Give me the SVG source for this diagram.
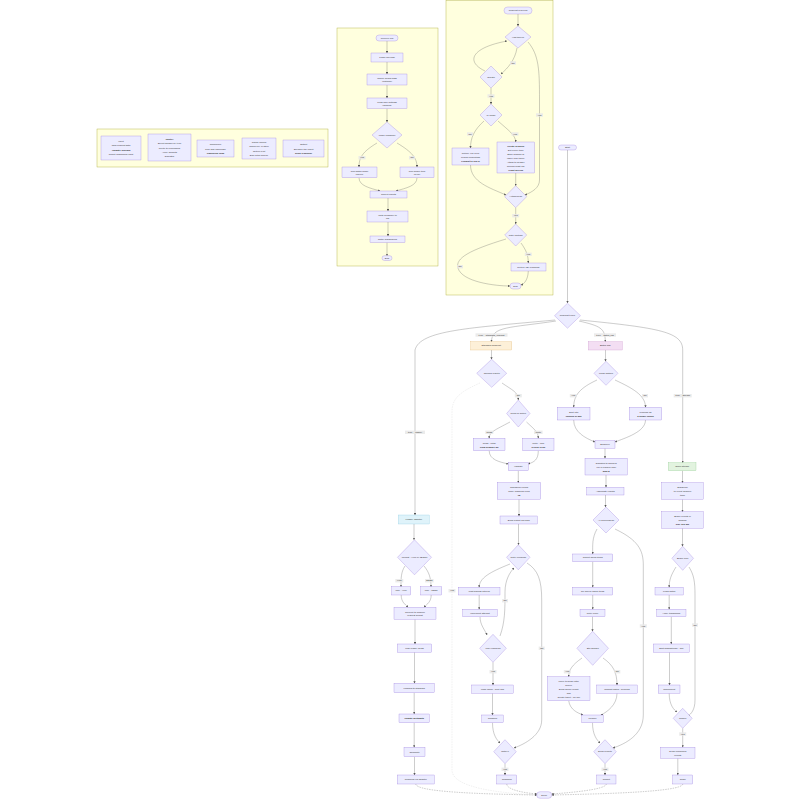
<svg xmlns="http://www.w3.org/2000/svg" width="800" height="800" viewBox="0 0 800 800">
<style>
.cl{fill:#ffffde;stroke:#aaaa33;stroke-width:0.4}
.n{fill:#ECECFF;stroke:#9370DB;stroke-width:0.3}
.e{fill:none;stroke:#555;stroke-width:0.3}
.dash{stroke-dasharray:1.5 1}
.t{font-family:"Liberation Sans",Arial,sans-serif;font-size:2.4px;fill:#333;text-anchor:middle;dominant-baseline:central}
.b{font-weight:bold}
.lb{fill:#e8e8e8;opacity:0.85}
</style>
<defs>
<marker id="a" viewBox="0 0 10 10" refX="9" refY="5" markerWidth="2.2" markerHeight="2.2" markerUnits="userSpaceOnUse" orient="auto"><path d="M0,0 L10,5 L0,10 z" fill="#555"/></marker>
</defs>
<rect width="800" height="800" fill="#fff"/>

<!-- clusters -->
<g id="cluster-left"><rect class="cl" x="97" y="129" width="231" height="38"/></g>
<g id="cluster-mid"><rect class="cl" x="337" y="28" width="101" height="238"/></g>
<g id="cluster-right"><rect class="cl" x="446" y="0.5" width="107" height="294.5"/></g>

<!-- connectors -->
<g id="connectors" class="e" marker-end="url(#a)">
<path d="M387,41 V53"/>
<path d="M387,62 V74"/>
<path d="M387,85 V98"/>
<path d="M387,108.5 V122"/>
<path d="M377,143 C362,152 359,158 359,167"/>
<path d="M397,143 C412,152 417,158 417,167"/>
<path d="M359,177.7 C359,186 370,188 380,191"/>
<path d="M417,177.7 C417,186 406,188 396,191"/>
<path d="M388,198 V211"/>
<path d="M388,222 V236"/>
<path d="M387,242.5 V255.7"/>
<path d="M518,14 V26"/>
<path d="M517,48 C515,60 508,68 501,74"/>
<path d="M485,71 C466,62 470,48 507,41"/>
<path d="M491,88 V104"/>
<path d="M484,121 C474,130 470.5,138 470.5,148"/>
<path d="M498,121 C508,130 515.7,135 515.7,142"/>
<path d="M528,42 C539,55 539.5,70 539.5,100 L539.5,180 C539.5,188 532,192 525,195"/>
<path d="M470.5,165 C470.5,182 490,188 506,195"/>
<path d="M515.7,173 V185.7"/>
<path d="M515.7,207.7 V224"/>
<path d="M521,243 C526,250 528.3,255 528.3,263"/>
<path d="M506,239 C470,250 455,258 458,268 C462,282 495,286 510,286"/>
<path d="M528.3,271 C528,280 524,284 521,285"/>
<path d="M567.5,150 V303"/>
<path d="M555,320 C470,328 420,330 415,350 L415,515"/>
<path d="M556,321 C510,328 491.5,326 491.5,341.7"/>
<path d="M579,321 C600,326 605.3,328 605.3,341.7"/>
<path d="M580,320 C660,328 682.7,332 682.7,350 L682.7,462.7"/>
<path d="M491.5,350 V359.3"/>
<path d="M502,383 C512,390 518.3,392 518.3,400"/>
<path d="M510,422 C495,430 489.2,432 489.2,438.3"/>
<path d="M526.5,422 C535,430 538.3,432 538.3,438.3"/>
<path d="M489.2,450.7 C489.2,460 500,462 508.3,464"/>
<path d="M538.3,450.7 C538.3,460 534,462 528.3,464"/>
<path d="M518.3,470.7 V482.7"/>
<path d="M519,499.3 V516"/>
<path d="M518.5,524 V544.8"/>
<path d="M510,564 C490,572 479.2,578 479.2,587.3"/>
<path d="M527,563 C538,570 541.7,580 541.7,600 L541.7,720 C541.7,735 525,744 514,748"/>
<path d="M479.2,595 V609.3"/>
<path d="M480,616.7 C480,625 485,630 487,635"/>
<path d="M500,636 C505,622 505,610 505,592 C505,580 510,572 514,568"/>
<path d="M493,662.3 V685"/>
<path d="M492.5,693.3 V715"/>
<path d="M492.5,722.7 C492.5,735 497,740 500,743"/>
<path d="M505,763.7 V775"/>
<path d="M605.5,350 V361.3"/>
<path d="M597,380 C580,388 573.7,395 573.7,407.3"/>
<path d="M615,380 C632,388 645.5,395 645.5,407.3"/>
<path d="M573.7,420 C573.7,432 585,438 595,442"/>
<path d="M645.5,420 C645.5,432 625,438 615,442"/>
<path d="M605,448.3 V458.3"/>
<path d="M606,475 V487.3"/>
<path d="M605.5,495 V507"/>
<path d="M597,529 C592,538 592.7,545 592.7,554"/>
<path d="M615,529 C638,540 643.3,550 643.3,565 L643.3,715 C643.3,735 625,744 613,748"/>
<path d="M592.7,561.7 V587.3"/>
<path d="M592.7,595 V609.3"/>
<path d="M592.5,616.7 V631.3"/>
<path d="M582,658 C572,665 568.7,670 568.7,676.7"/>
<path d="M603,658 C613,665 617,672 617,685"/>
<path d="M568.7,700.7 C570,710 578,713 583,715"/>
<path d="M617,693.3 C617,705 607,712 601,715"/>
<path d="M592.5,722.7 C592.5,735 597,740 600,743"/>
<path d="M605,763.7 V775"/>
<path d="M682.5,470.7 V482.7"/>
<path d="M682.5,499.3 V511.7"/>
<path d="M682.5,528.3 V546.3"/>
<path d="M676,567 C671,575 669.2,580 669.2,587.3"/>
<path d="M689,567 C694,575 695,582 695,595 L695,700 C695,710 691,714 688,716"/>
<path d="M669.2,595 V609.3"/>
<path d="M671.3,616.7 V644"/>
<path d="M669.5,652.3 V685"/>
<path d="M669.2,693.3 C669.2,705 674,710 677,712"/>
<path d="M682.7,728.3 V747.3"/>
<path d="M677.8,758.3 V775"/>
<path d="M414,524 V539.8"/>
<path d="M405,566 C401,572 401,578 401,586.7"/>
<path d="M424,566 C429,572 431,578 431,586.7"/>
<path d="M401.2,595 C401.2,602 405,604 408,607.3"/>
<path d="M431.2,595 C431.2,602 427,604 424,607.3"/>
<path d="M415,619.3 V644"/>
<path d="M414.5,652.3 V683.3"/>
<path d="M414.2,692.7 V714"/>
<path d="M414.2,722.7 V747.3"/>
<path d="M414.5,756.7 V775"/>
<path class="dash" stroke="#ccc" d="M480,383 C460,392 452,398 452,412 L452,770 C452,788 500,793 536.7,795"/>
<path class="dash" d="M415.8,784 C416,792 480,794 536.7,795"/>
<path class="dash" d="M506.7,784 C507,790 525,793 537,794"/>
<path class="dash" d="M606.3,784 C606,790 565,793 551.7,794"/>
<path class="dash" d="M682.7,784 C683,792 600,794 551.7,795"/>
</g>

<!-- edge labels -->
<g id="edge-labels">
<rect class="lb" x="358.5" y="156" width="7" height="3.4"/><text class="t" x="362" y="157.7">Yes</text>
<rect class="lb" x="409" y="156" width="6" height="3.4"/><text class="t" x="412" y="157.7">No</text>
<rect class="lb" x="510" y="61.3" width="6" height="3.4"/><text class="t" x="513" y="63">No</text>
<rect class="lb" x="487.5" y="94.3" width="7" height="3.4"/><text class="t" x="491" y="96">Yes</text>
<rect class="lb" x="467" y="132.3" width="6" height="3.4"/><text class="t" x="470" y="134">No</text>
<rect class="lb" x="511.5" y="132.3" width="7" height="3.4"/><text class="t" x="515" y="134">Yes</text>
<rect class="lb" x="536" y="113.3" width="7" height="3.4"/><text class="t" x="539.5" y="115">Yes</text>
<rect class="lb" x="512.2" y="214" width="7" height="3.4"/><text class="t" x="515.7" y="215.7">Yes</text>
<rect class="lb" x="524.8" y="252.6" width="7" height="3.4"/><text class="t" x="528.3" y="254.3">Yes</text>
<rect class="lb" x="457" y="265" width="6" height="3.4"/><text class="t" x="460" y="266.7">No</text>
<rect class="lb" x="475.5" y="333.3" width="32" height="3.4"/><text class="t" x="491.5" y="335">type = standard_request</text>
<rect class="lb" x="594" y="333.3" width="22" height="3.4"/><text class="t" x="605" y="335">type = batch_job</text>
<rect class="lb" x="673.7" y="394" width="18" height="3.4"/><text class="t" x="682.7" y="395.7">type = stream</text>
<rect class="lb" x="405" y="430.6" width="20" height="3.4"/><text class="t" x="415" y="432.3">type = legacy</text>
<rect class="lb" x="514.8" y="394" width="7" height="3.4"/><text class="t" x="518.3" y="395.7">No</text>
<rect class="lb" x="448.5" y="589" width="7" height="3.4"/><text class="t" x="452" y="590.7">Yes</text>
<rect class="lb" x="485.3" y="430.6" width="8" height="3.4"/><text class="t" x="489.3" y="432.3">Read</text>
<rect class="lb" x="534" y="430.6" width="8.6" height="3.4"/><text class="t" x="538.3" y="432.3">Write</text>
<rect class="lb" x="538.7" y="646.6" width="6" height="3.4"/><text class="t" x="541.7" y="648.3">No</text>
<rect class="lb" x="502" y="599" width="6" height="3.4"/><text class="t" x="505" y="600.7">No</text>
<rect class="lb" x="489.5" y="670" width="7" height="3.4"/><text class="t" x="493" y="671.7">Yes</text>
<rect class="lb" x="501.5" y="767.6" width="7" height="3.4"/><text class="t" x="505" y="769.3">Yes</text>
<rect class="lb" x="569.8" y="394" width="7" height="3.4"/><text class="t" x="573.3" y="395.7">Yes</text>
<rect class="lb" x="642" y="394" width="6" height="3.4"/><text class="t" x="645" y="395.7">No</text>
<rect class="lb" x="639.8" y="624.3" width="7" height="3.4"/><text class="t" x="643.3" y="626">Yes</text>
<rect class="lb" x="563.8" y="670" width="7" height="3.4"/><text class="t" x="567.3" y="671.7">Yes</text>
<rect class="lb" x="614.3" y="670" width="6" height="3.4"/><text class="t" x="617.3" y="671.7">No</text>
<rect class="lb" x="601.5" y="767.6" width="7" height="3.4"/><text class="t" x="605" y="769.3">Yes</text>
<rect class="lb" x="692" y="623.3" width="6" height="3.4"/><text class="t" x="695" y="625">No</text>
<rect class="lb" x="679.2" y="732.3" width="7" height="3.4"/><text class="t" x="682.7" y="734">Yes</text>
<rect class="lb" x="395.3" y="579" width="8" height="3.4"/><text class="t" x="399.3" y="580.7">XML</text>
<rect class="lb" x="425" y="579" width="8.6" height="3.4"/><text class="t" x="429.3" y="580.7">JSON</text>
</g>

<g id="L1"><rect class="n" x="101" y="136" width="40" height="24"/><text class="t"><tspan x="121" y="141">Input</tspan><tspan x="121" y="145.3">Raw request data</tspan><tspan x="121" y="149.6" class="b">Validate schema</tspan><tspan x="121" y="153.9">Reject malformed input</tspan></text></g>
<g id="L2"><rect class="n" x="148" y="134" width="43" height="27"/><text class="t"><tspan x="169.5" y="139" class="b">Router</tspan><tspan x="169.5" y="143.3">Select handler by type</tspan><tspan x="169.5" y="147.6">Route to processing</tspan><tspan x="169.5" y="151.9">Apply defaults</tspan><tspan x="169.5" y="156.2">Dispatch</tspan></text></g>
<g id="L3"><rect class="n" x="197" y="140" width="37" height="17"/><text class="t"><tspan x="215.5" y="144.2">Normalizer</tspan><tspan x="215.5" y="148.5">Trim and lowercase</tspan><tspan x="215.5" y="152.8" class="b">Canonical form</tspan></text></g>
<g id="L4"><rect class="n" x="242" y="138" width="34" height="21"/><text class="t"><tspan x="259" y="142">Cache lookup</tspan><tspan x="259" y="146.3">Check key in store</tspan><tspan x="259" y="150.6">Return if hit</tspan><tspan x="259" y="154.9">Else fetch source</tspan></text></g>
<g id="L5"><rect class="n" x="283" y="140" width="41" height="17"/><text class="t"><tspan x="303.5" y="144.2">Output</tspan><tspan x="303.5" y="148.5">Serialize the result</tspan><tspan x="303.5" y="152.8" class="b">Send response</tspan></text></g>

<g id="M1"><rect class="n" x="376" y="35" width="22" height="6" rx="3"/><text class="t" x="387" y="38">Receive job</text></g>
<g id="M2"><rect class="n" x="371" y="53" width="32" height="9"/><text class="t" x="387" y="57.5">Parse payload</text></g>
<g id="M3"><rect class="n" x="367" y="74" width="40" height="11"/><text class="t"><tspan x="387" y="77.8">Check config flags</tspan><tspan x="387" y="81.4">(optional)</tspan></text></g>
<g id="M4"><rect class="n" x="367" y="98" width="40" height="10.5"/><text class="t"><tspan x="387" y="101.5">Load user settings</tspan><tspan x="387" y="105.1">(cached)</tspan></text></g>
<g id="MD"><polygon class="n" points="387,122 402,135 387,148 372,135"/><text class="t" x="387" y="135">Mode enabled?</text></g>
<g id="M5"><rect class="n" x="342" y="167" width="35" height="10.7"/><text class="t"><tspan x="359.5" y="170.5">Run batch mode</tspan><tspan x="359.5" y="174.1">(async)</tspan></text></g>
<g id="M6"><rect class="n" x="400" y="167" width="34" height="10.7"/><text class="t"><tspan x="417" y="170.5">Run single item</tspan><tspan x="417" y="174.1">(sync)</tspan></text></g>
<g id="M7"><rect class="n" x="370" y="191" width="37" height="7"/><text class="t" x="388.5" y="194.5">Collect results</text></g>
<g id="M8"><rect class="n" x="367" y="211" width="41" height="11"/><text class="t"><tspan x="387.5" y="214.7">Write summary to</tspan><tspan x="387.5" y="218.3">log</tspan></text></g>
<g id="M9"><rect class="n" x="370" y="236" width="35" height="6.5"/><text class="t" x="387.5" y="239.2">Notify subscribers</text></g>
<g id="M10"><rect class="n" x="382" y="255.7" width="10" height="4.8" rx="2.4"/><text class="t" x="387" y="258.1">End</text></g>

<g id="R1"><rect class="n" x="504" y="7" width="28" height="7" rx="3.5"/><text class="t" x="518" y="10.5">Request received</text></g>
<g id="RD1"><polygon class="n" points="518,26 531,37 518,48 505,37"/><text class="t" x="518" y="37">Has token?</text></g>
<g id="RD2"><polygon class="n" points="491,66 502,77 491,88 480,77"/><text class="t" x="491" y="77">Guest?</text></g>
<g id="RD3"><polygon class="n" points="491,104 502,115 491,126 480,115"/><text class="t" x="491" y="115">Is valid?</text></g>
<g id="R2"><rect class="n" x="452" y="148" width="37" height="17"/><text class="t"><tspan x="470.5" y="152.5">Return 401 error</tspan><tspan x="470.5" y="156.5">Invalid credentials</tspan><tspan x="470.5" y="160.5" class="b">Prompt to log in</tspan></text></g>
<g id="R3"><rect class="n" x="497" y="142" width="37.5" height="31"/><text class="t"><tspan x="515.7" y="145.5" class="b">Create session</tspan><tspan x="515.7" y="149.5">Set expiry time</tspan><tspan x="515.7" y="153.5">Store session id</tspan><tspan x="515.7" y="157.5">Issue new token</tspan><tspan x="515.7" y="161.5">Attach to header</tspan><tspan x="515.7" y="165.5">Record audit log</tspan><tspan x="515.7" y="169.5" class="b">Grant access</tspan></text></g>
<g id="RD4"><polygon class="n" points="515.7,185.7 526.7,196.7 515.7,207.7 504.7,196.7"/><text class="t" x="515.7" y="196.7">Authorized?</text></g>
<g id="RD5"><polygon class="n" points="515.7,224 526.7,235 515.7,246 504.7,235"/><text class="t" x="515.7" y="235">Rate limited?</text></g>
<g id="R4"><rect class="n" x="511" y="263" width="35" height="8"/><text class="t" x="528.5" y="267">Return 429 response</text></g>
<g id="R5"><rect class="n" x="510" y="283" width="11" height="6" rx="3"/><text class="t" x="515.5" y="286">End</text></g>

<g id="T"><rect class="n" x="558.5" y="145" width="18" height="5" rx="2.5"/><text class="t" x="567.5" y="147.5">Start</text></g>
<g id="D0"><polygon class="n" points="567.5,303.2 580.5,315.7 567.5,328.2 554.5,315.7"/><text class="t" x="567.5" y="315.7">Request type?</text></g>
<g id="O"><rect x="470.7" y="341.7" width="41" height="8.3" fill="#fdf0d8" stroke="#e0b46a" stroke-width="0.3"/><text class="t" x="491.2" y="345.8">Standard Request</text></g>
<g id="P"><rect x="588.3" y="341.7" width="34" height="8.3" fill="#f3def3" stroke="#c58bc8" stroke-width="0.3"/><text class="t" x="605.3" y="345.8">Batch Job</text></g>
<g id="G"><rect x="668.3" y="462.7" width="27.7" height="8" fill="#e2f3df" stroke="#86c586" stroke-width="0.3"/><text class="t" x="682.2" y="466.7">Open stream</text></g>
<g id="C"><rect x="398.3" y="515" width="31" height="9" fill="#dff3fa" stroke="#86c8e0" stroke-width="0.3"/><text class="t" x="413.8" y="519.5">Legacy adapter</text></g>

<g id="LD1"><polygon class="n" points="491.7,359.3 506.7,373.3 491.7,387.3 476.7,373.3"/><text class="t" x="491.7" y="373.3">Cached result?</text></g>
<g id="LD2"><polygon class="n" points="518.3,400 530,413.5 518.3,427 506.6,413.5"/><text class="t" x="518.3" y="413.5">Read or write?</text></g>
<g id="LR1"><rect class="n" x="473.3" y="438.3" width="31.7" height="12.4"/><text class="t"><tspan x="489.2" y="442.7">Read - fetch</tspan><tspan x="489.2" y="446.5" class="b">from primary db</tspan></text></g>
<g id="LR2"><rect class="n" x="522.7" y="438.3" width="31.3" height="12.4"/><text class="t"><tspan x="538.3" y="442.7">Write - lock</tspan><tspan x="538.3" y="446.5" class="b">record in db</tspan></text></g>
<g id="LR3"><rect class="n" x="508.3" y="462.7" width="20" height="8"/><text class="t" x="518.3" y="466.7">Validate</text></g>
<g id="LR4"><rect class="n" x="497.3" y="482.7" width="43.4" height="16.6"/><text class="t"><tspan x="519" y="487">Transform record</tspan><tspan x="519" y="491">apply mapping rules</tspan><tspan x="519" y="495" class="b">v2</tspan></text></g>
<g id="LR5"><rect class="n" x="500" y="516" width="37.3" height="8"/><text class="t" x="518.7" y="520">Build output payload</text></g>
<g id="LD3"><polygon class="n" points="518.3,544.8 530,557.3 518.3,569.8 506.6,557.3"/><text class="t" x="518.3" y="557.3">Retry needed?</text></g>
<g id="LR6"><rect class="n" x="458.3" y="587.3" width="41.7" height="7.7"/><text class="t" x="479.2" y="591.2">Wait backoff interval</text></g>
<g id="LR7"><rect class="n" x="462.7" y="609.3" width="34.6" height="7.4"/><text class="t" x="480" y="613">Increment attempt</text></g>
<g id="LD4"><polygon class="n" points="493,634.3 506.3,648.3 493,662.3 479.7,648.3"/><text class="t" x="493" y="648.3">Max reached?</text></g>
<g id="LR8"><rect class="n" x="471.7" y="685" width="41.6" height="8.3"/><text class="t" x="492.5" y="689.2">Mark failed - alert ops</text></g>
<g id="LR9"><rect class="n" x="481.7" y="715" width="21.6" height="7.7"/><text class="t" x="492.5" y="718.8">Rollback</text></g>
<g id="LD5"><polygon class="n" points="505,739.7 516.3,751.7 505,763.7 493.7,751.7"/><text class="t" x="505" y="751.7">Notify?</text></g>
<g id="LR10"><rect class="n" x="496.7" y="775" width="20" height="9"/><text class="t" x="506.7" y="779.5">Respond</text></g>

<g id="RD_1"><polygon class="n" points="606,361.3 618,373.3 606,385.3 594,373.3"/><text class="t" x="606" y="373.3">Large batch?</text></g>
<g id="RR1"><rect class="n" x="557.3" y="407.3" width="32.7" height="12.7"/><text class="t"><tspan x="573.7" y="411.8">Split into</tspan><tspan x="573.7" y="415.6" class="b">chunks of 500</tspan></text></g>
<g id="RR2"><rect class="n" x="629.3" y="407.3" width="32.4" height="12.7"/><text class="t"><tspan x="645.5" y="411.8">Process as</tspan><tspan x="645.5" y="415.6" class="b">a single chunk</tspan></text></g>
<g id="RR3"><rect class="n" x="595" y="440.7" width="20" height="7.6"/><text class="t" x="605" y="444.5">Enqueue</text></g>
<g id="RR4"><rect class="n" x="585" y="458.3" width="42.3" height="16.7"/><text class="t"><tspan x="606.2" y="462.7">Dispatch to workers</tspan><tspan x="606.2" y="466.7">run in parallel pool</tspan><tspan x="606.2" y="470.7" class="b">max 8</tspan></text></g>
<g id="RR5"><rect class="n" x="586.7" y="487.3" width="37.3" height="7.7"/><text class="t" x="605.3" y="491.2">Aggregate results</text></g>
<g id="RD_2"><polygon class="n" points="606,507 619,520 606,533 593,520"/><text class="t" x="606" y="520">All succeeded?</text></g>
<g id="RR6"><rect class="n" x="572.7" y="554" width="40" height="7.7"/><text class="t" x="592.7" y="557.8">Collect failed items</text></g>
<g id="RR7"><rect class="n" x="572.7" y="587.3" width="40" height="7.7"/><text class="t" x="592.7" y="591.2">Re-queue failed items</text></g>
<g id="RR8"><rect class="n" x="580" y="609.3" width="25" height="7.4"/><text class="t" x="592.5" y="613">Retry once</text></g>
<g id="RD_3"><polygon class="n" points="592.7,631.3 608.5,648.3 592.7,665.3 576.9,648.3"/><text class="t" x="592.7" y="648.3">Still failing?</text></g>
<g id="RR9"><rect class="n" x="547.3" y="676.7" width="42.7" height="24"/><text class="t"><tspan x="568.7" y="680.5">Move to dead letter</tspan><tspan x="568.7" y="684.6">queue</tspan><tspan x="568.7" y="688.7">Send failure report</tspan><tspan x="568.7" y="692.8">and</tspan><tspan x="568.7" y="696.9">Create ticket - on-call</tspan></text></g>
<g id="RR10"><rect class="n" x="596.7" y="685" width="40.6" height="8.3"/><text class="t" x="617" y="689.2">Commit batch - success</text></g>
<g id="RR11"><rect class="n" x="581.7" y="715" width="21.6" height="7.7"/><text class="t" x="592.5" y="718.8">Finalize</text></g>
<g id="RD_4"><polygon class="n" points="605,739.7 616.3,751.7 605,763.7 593.7,751.7"/><text class="t" x="605" y="751.7">Send report?</text></g>
<g id="RR12"><rect class="n" x="596.7" y="775" width="19.3" height="9"/><text class="t" x="606.3" y="779.5">Report</text></g>

<g id="FR1"><rect class="n" x="661.7" y="482.7" width="41.6" height="16.6"/><text class="t"><tspan x="682.5" y="487">Subscribe</tspan><tspan x="682.5" y="491">to event channel</tspan><tspan x="682.5" y="495">topic</tspan></text></g>
<g id="FR2"><rect class="n" x="661.7" y="511.7" width="41.6" height="16.6"/><text class="t"><tspan x="682.5" y="516">Buffer events in</tspan><tspan x="682.5" y="520">window</tspan><tspan x="682.5" y="524" class="b">size 100 ms</tspan></text></g>
<g id="FD1"><polygon class="n" points="682.7,546.3 693.5,558.3 682.7,570.3 671.9,558.3"/><text class="t" x="682.7" y="558.3">Buffer full?</text></g>
<g id="FR3"><rect class="n" x="655" y="587.3" width="28.3" height="7.7"/><text class="t" x="669.2" y="591.2">Flush batch</text></g>
<g id="FR4"><rect class="n" x="656.7" y="609.3" width="29.3" height="7.4"/><text class="t" x="671.3" y="613">Apply transforms</text></g>
<g id="FR5"><rect class="n" x="653.3" y="644" width="36" height="8.3"/><text class="t" x="671.3" y="648.2">Emit downstream - ack</text></g>
<g id="FR6"><rect class="n" x="658.3" y="685" width="21.7" height="8.3"/><text class="t" x="669.2" y="689.2">Checkpoint</text></g>
<g id="FD2"><polygon class="n" points="682.7,708.3 692.2,718.3 682.7,728.3 673.2,718.3"/><text class="t" x="682.7" y="718.3">Close?</text></g>
<g id="FR7"><rect class="n" x="660.7" y="747.3" width="34.3" height="11"/><text class="t"><tspan x="677.8" y="751">Drain remaining</tspan><tspan x="677.8" y="754.8">events</tspan></text></g>
<g id="FR8"><rect class="n" x="672.7" y="775" width="20" height="9"/><text class="t" x="682.7" y="779.5">Close</text></g>

<g id="FLD"><polygon class="n" points="414.5,539.8 431.5,557.3 414.5,574.8 397.5,557.3"/><text class="t" x="414.5" y="557.3">Format - XML or JSON?</text></g>
<g id="FL1"><rect class="n" x="391.7" y="586.7" width="19" height="8.3"/><text class="t" x="401.2" y="590.8">Use - XML</text></g>
<g id="FL2"><rect class="n" x="420.7" y="586.7" width="21" height="8.3"/><text class="t" x="431.2" y="590.8">Use - JSON</text></g>
<g id="FL3"><rect class="n" x="394" y="607.3" width="42" height="12"/><text class="t"><tspan x="415" y="611.5">Convert to modern</tspan><tspan x="415" y="615.3">request format</tspan></text></g>
<g id="FL4"><rect class="n" x="397.3" y="644" width="34.4" height="8.3"/><text class="t" x="414.5" y="648.2">Map legacy fields</text></g>
<g id="FL5"><rect class="n" x="394" y="683.3" width="40.3" height="9.4"/><text class="t" x="414.2" y="688">Forward to standard</text></g>
<g id="FL6"><rect class="n" x="399" y="714" width="30.3" height="8.7"/><text class="t" x="414.2" y="718.3" font-weight="bold">Update metadata</text></g>
<g id="FL7"><rect class="n" x="404" y="747.3" width="21" height="9.4"/><text class="t" x="414.5" y="752">Complete</text></g>
<g id="FL8"><rect class="n" x="397.3" y="775" width="37" height="9"/><text class="t" x="415.8" y="779.5">Respond via adapter</text></g>

<g id="END"><rect class="n" x="536.7" y="791.7" width="15" height="6.6" rx="3.3"/><text class="t" x="544.2" y="795">Done</text></g>
</svg>
